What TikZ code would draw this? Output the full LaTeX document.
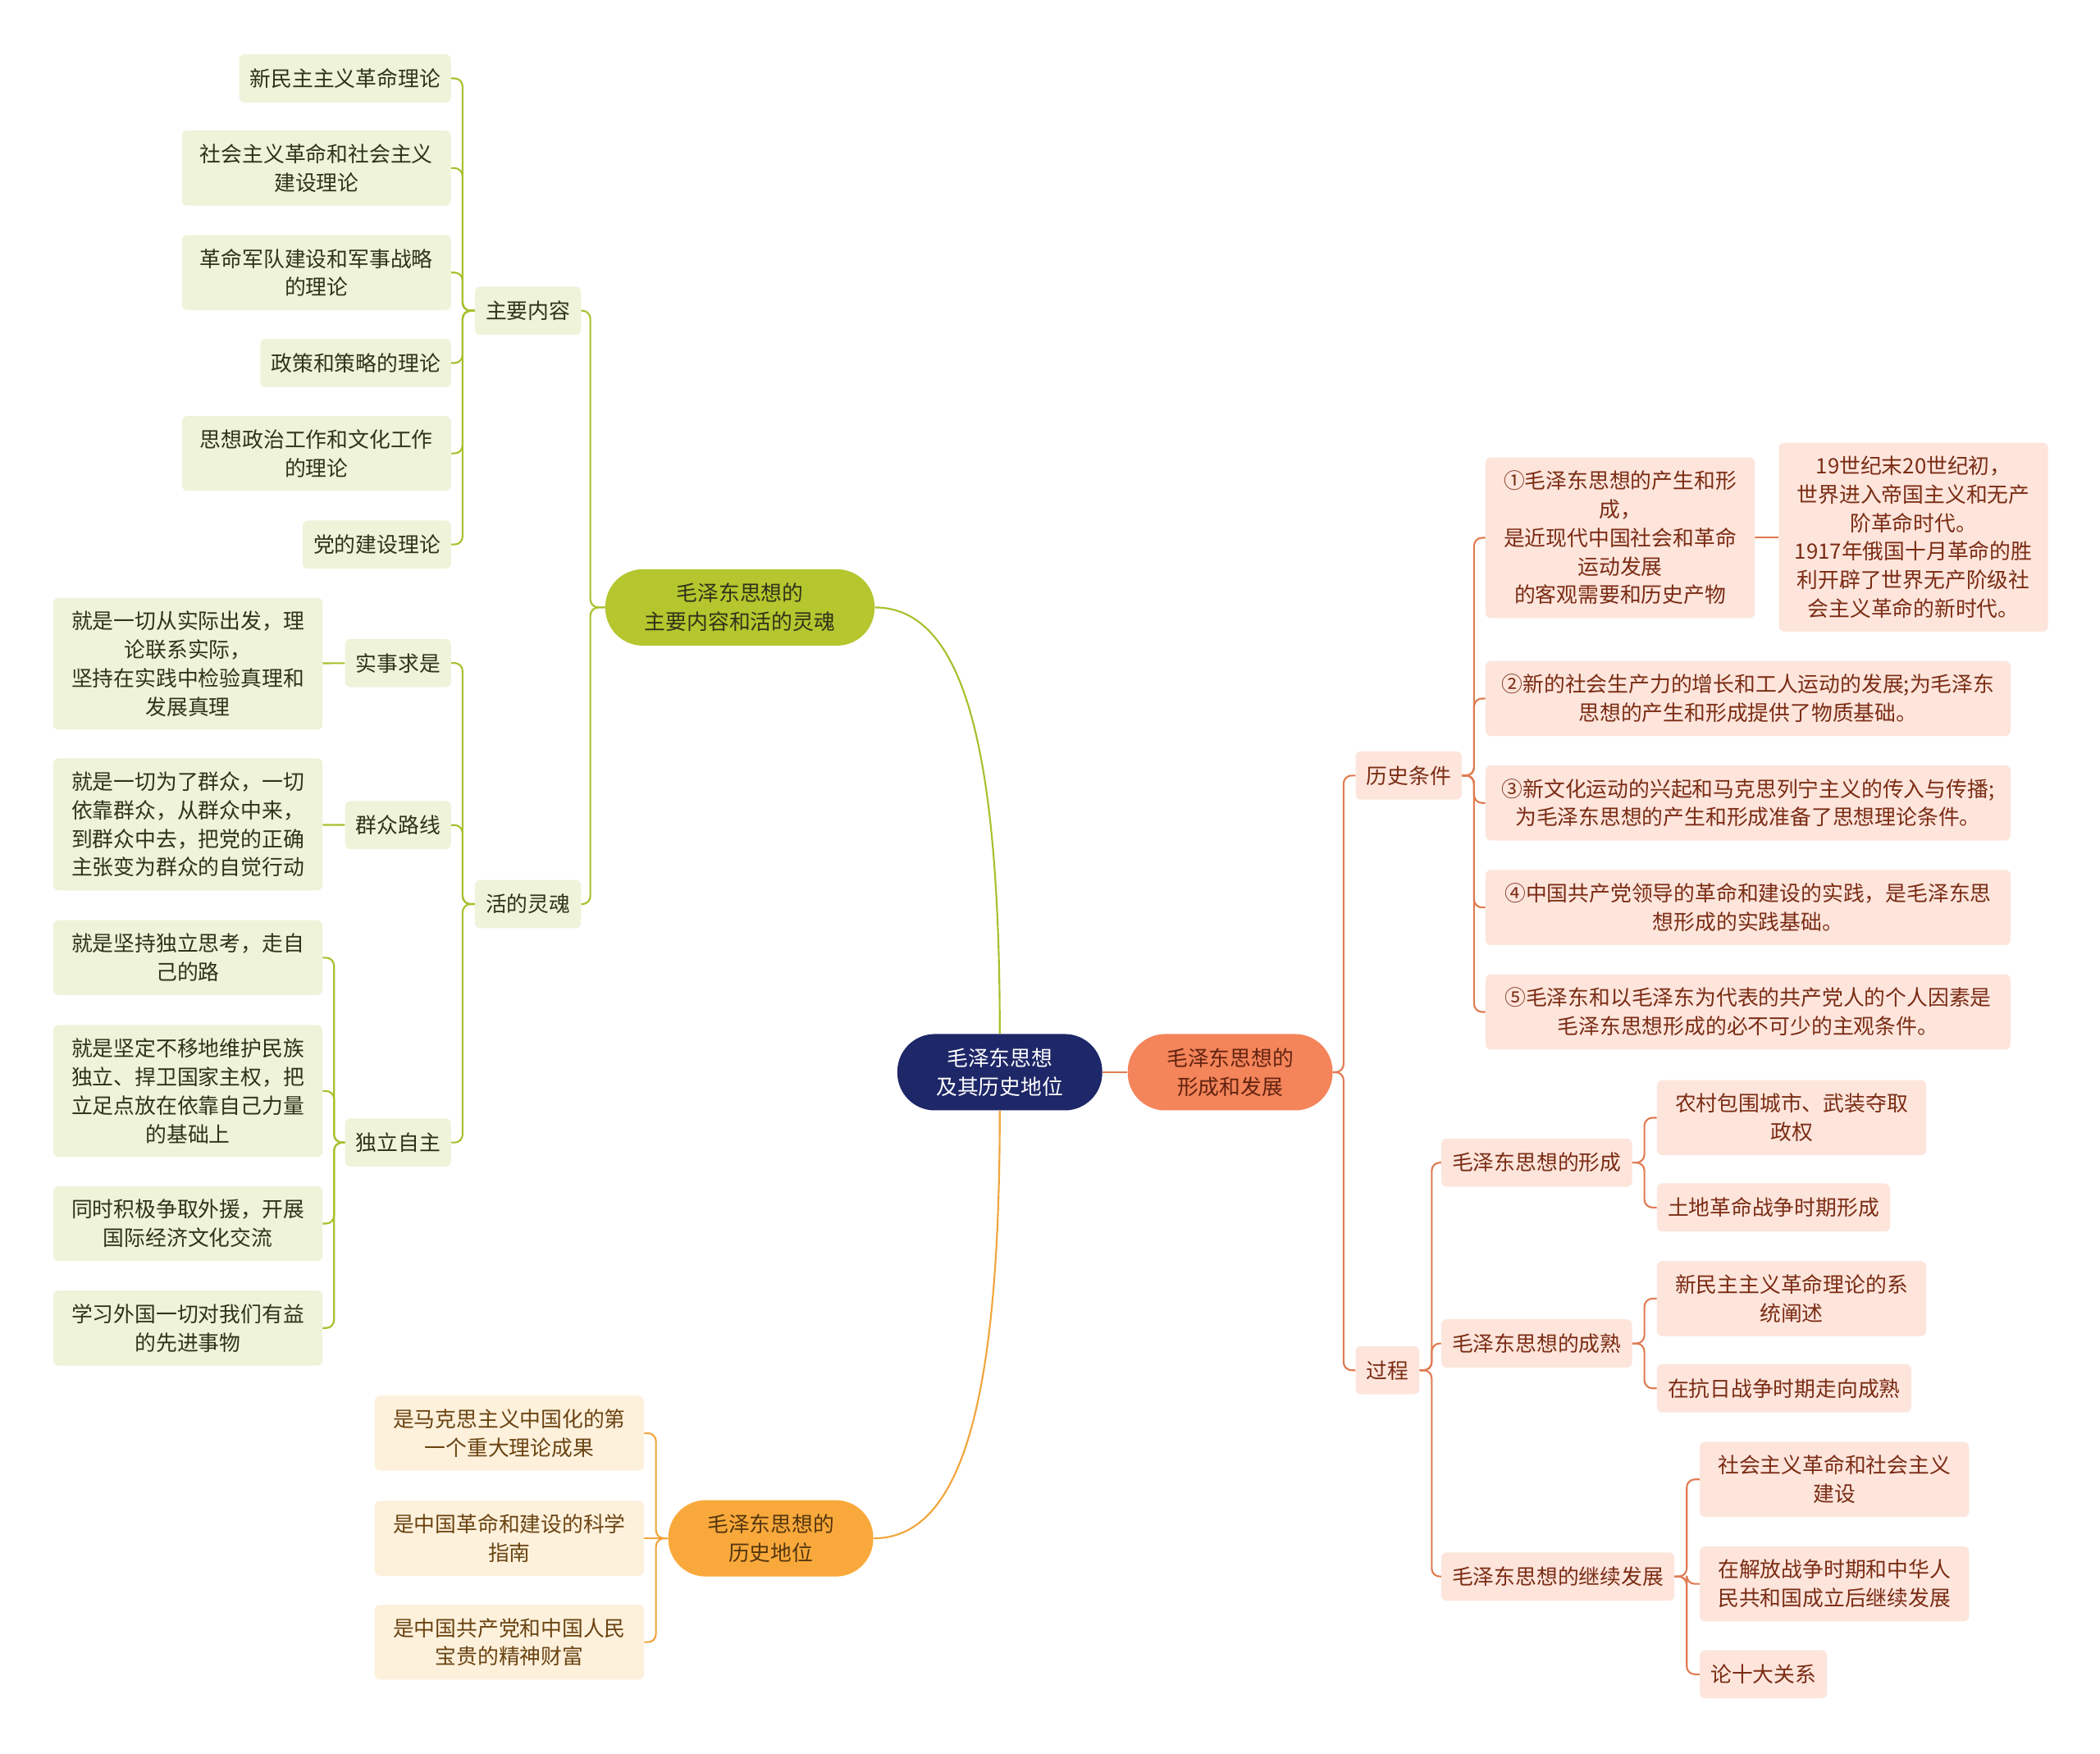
\documentclass[tikz,border=0pt]{standalone}
\usepackage{fontspec}
\setmainfont{Noto Sans CJK SC}
\definecolor{navy}{HTML}{1E2768}
\definecolor{coralhub}{HTML}{F4845A}
\definecolor{greenhub}{HTML}{B5C62E}
\definecolor{orangehub}{HTML}{F9A93B}
\definecolor{greenfill}{HTML}{EFF3DA}
\definecolor{coralfill}{HTML}{FDE5DC}
\definecolor{orangefill}{HTML}{FEF1DC}
\definecolor{greenln}{HTML}{A9BF2D}
\definecolor{coralln}{HTML}{E07B52}
\definecolor{orangeln}{HTML}{F1A53C}
\definecolor{greentext}{HTML}{30331A}
\definecolor{coraltext}{HTML}{7B2C14}
\definecolor{orangetext}{HTML}{6A4412}
\tikzset{
  every node/.style={font=\fontsize{15.8}{21.3}\selectfont, align=center},
  hub/.style={rounded corners=28pt, minimum width=153pt, minimum height=57pt, inner sep=4pt},
  leaf/.style={rounded corners=4pt, inner xsep=8pt, inner ysep=10pt, minimum height=36pt},
  longbox/.style={minimum width=201pt},
  widebox/.style={minimum width=392pt},
  gleaf/.style={leaf, fill=greenfill, text=greentext},
  cleaf/.style={leaf, fill=coralfill, text=coraltext},
  oleaf/.style={leaf, fill=orangefill, text=orangetext},
  gedge/.style={draw=greenln, line width=1.3pt, rounded corners=6pt},
  cedge/.style={draw=coralln, line width=1.3pt, rounded corners=6pt},
  oedge/.style={draw=orangeln, line width=1.3pt, rounded corners=6pt}
}

\begin{document}
\begin{tikzpicture}[x=1pt, y=-1pt]
            \fill[white] (0,0) rectangle (1568,1309);
            \useasboundingbox (0,0) rectangle (1568,1309);

            % centre and its four branches
            \node[hub, fill=navy, text=white] (root) at (746.5, 800.5) {毛泽东思想\\及其历史地位};
            \node[hub, fill=coralhub, text=coraltext!80!black] (form) at (918.5, 800.5) {毛泽东思想的\\形成和发展};
            \node[hub, fill=greenhub, text=greentext, minimum width=201pt] (cont) at (552.5, 453.5) {毛泽东思想的\\主要内容和活的灵魂};
            \node[hub, fill=orangehub, text=orangetext!80!black] (pos) at (575.5, 1148.5) {毛泽东思想的\\历史地位};

            % main content
            \node[gleaf, anchor=east] (zynr) at (434, 232) {主要内容};
            \node[gleaf, anchor=east] (xmz) at (337, 58.5) {新民主主义革命理论};
            \node[gleaf, longbox, anchor=east] (shz) at (337, 125.5) {社会主义革命和社会主义\\建设理论};
            \node[gleaf, longbox, anchor=east] (gmj) at (337, 203.5) {革命军队建设和军事战略\\的理论};
            \node[gleaf, anchor=east] (zcc) at (337, 271) {政策和策略的理论};
            \node[gleaf, longbox, anchor=east] (sxz) at (337, 338.5) {思想政治工作和文化工作\\的理论};
            \node[gleaf, anchor=east] (ddj) at (337, 406.5) {党的建设理论};

            % living soul
            \node[gleaf, anchor=east] (hdlh) at (434, 675) {活的灵魂};
            \node[gleaf, anchor=east] (sssq) at (337, 495) {实事求是};
            \node[gleaf, anchor=east] (qzlx) at (337, 616) {群众路线};
            \node[gleaf, anchor=east] (dlzz) at (337, 853) {独立自主};
            \node[gleaf, longbox, anchor=east] (sssqa) at (241, 495.5) {就是一切从实际出发，理\\论联系实际，\\坚持在实践中检验真理和\\发展真理};
            \node[gleaf, longbox, anchor=east] (qzlxa) at (241, 615.5) {就是一切为了群众，一切\\依靠群众，从群众中来，\\到群众中去，把党的正确\\主张变为群众的自觉行动};
            \node[gleaf, longbox, anchor=east] (dlzza) at (241, 715) {就是坚持独立思考，走自\\己的路};
            \node[gleaf, longbox, anchor=east] (dlzzb) at (241, 814.5) {就是坚定不移地维护民族\\独立、捍卫国家主权，把\\立足点放在依靠自己力量\\的基础上};
            \node[gleaf, longbox, anchor=east] (dlzzc) at (241, 913.5) {同时积极争取外援，开展\\国际经济文化交流};
            \node[gleaf, longbox, anchor=east] (dlzzd) at (241, 991.5) {学习外国一切对我们有益\\的先进事物};

            % historical position
            \node[oleaf, longbox, anchor=east] (posa) at (481, 1070) {是马克思主义中国化的第\\一个重大理论成果};
            \node[oleaf, longbox, anchor=east] (posb) at (481, 1148.5) {是中国革命和建设的科学\\指南};
            \node[oleaf, longbox, anchor=east] (posc) at (481, 1226) {是中国共产党和中国人民\\宝贵的精神财富};

            % historical conditions
            \node[cleaf, anchor=west] (lstj) at (1012, 579) {历史条件};
            \node[cleaf, longbox, anchor=west] (tja) at (1109, 401.5) {①毛泽东思想的产生和形\\成，\\是近现代中国社会和革命\\运动发展\\的客观需要和历史产物};
            \node[cleaf, longbox, anchor=west] (tjax) at (1328, 401) {19世纪末20世纪初，\\世界进入帝国主义和无产\\阶革命时代。\\1917年俄国十月革命的胜\\利开辟了世界无产阶级社\\会主义革命的新时代。};
            \node[cleaf, widebox, anchor=west] (tjb) at (1109, 521.5) {②新的社会生产力的增长和工人运动的发展;为毛泽东\\思想的产生和形成提供了物质基础。};
            \node[cleaf, widebox, anchor=west] (tjc) at (1109, 599.5) {③新文化运动的兴起和马克思列宁主义的传入与传播;\\为毛泽东思想的产生和形成准备了思想理论条件。};
            \node[cleaf, widebox, anchor=west] (tjd) at (1109, 677.5) {④中国共产党领导的革命和建设的实践，是毛泽东思\\想形成的实践基础。};
            \node[cleaf, widebox, anchor=west] (tje) at (1109, 755.5) {⑤毛泽东和以毛泽东为代表的共产党人的个人因素是\\毛泽东思想形成的必不可少的主观条件。};

            % process
            \node[cleaf, anchor=west] (gc) at (1012, 1023) {过程};
            \node[cleaf, anchor=west] (gca) at (1076, 868) {毛泽东思想的形成};
            \node[cleaf, anchor=west] (gcb) at (1076, 1003) {毛泽东思想的成熟};
            \node[cleaf, anchor=west] (gcc) at (1076, 1177) {毛泽东思想的继续发展};
            \node[cleaf, longbox, anchor=west] (gcaa) at (1237, 834.5) {农村包围城市、武装夺取\\政权};
            \node[cleaf, anchor=west] (gcab) at (1237, 901.5) {土地革命战争时期形成};
            \node[cleaf, longbox, anchor=west] (gcba) at (1237, 969.5) {新民主主义革命理论的系\\统阐述};
            \node[cleaf, anchor=west] (gcbb) at (1237, 1036.5) {在抗日战争时期走向成熟};
            \node[cleaf, longbox, anchor=west] (gcca) at (1269, 1104.5) {社会主义革命和社会主义\\建设};
            \node[cleaf, longbox, anchor=west] (gccb) at (1269, 1182.5) {在解放战争时期和中华人\\民共和国成立后继续发展};
            \node[cleaf, anchor=west] (gccc) at (1269, 1250) {论十大关系};

            \draw[cedge] (root) -- (form);
            \draw[gedge] (root.north) .. controls (746.5, 560) and (720, 453.5) .. (cont.east);
            \draw[oedge] (root.south) .. controls (746.5, 1040) and (720, 1148.5) .. (pos.east);

            \draw[gedge] (cont.west) -- ++(-11,0) |- (zynr.east);
            \draw[gedge] (cont.west) -- ++(-11,0) |- (hdlh.east);
            \draw[gedge] (zynr.west) -- ++(-9,0) |- (xmz.east);
            \draw[gedge] (zynr.west) -- ++(-9,0) |- (shz.east);
            \draw[gedge] (zynr.west) -- ++(-9,0) |- (gmj.east);
            \draw[gedge] (zynr.west) -- ++(-9,0) |- (zcc.east);
            \draw[gedge] (zynr.west) -- ++(-9,0) |- (sxz.east);
            \draw[gedge] (zynr.west) -- ++(-9,0) |- (ddj.east);
            \draw[gedge] (hdlh.west) -- ++(-9,0) |- (sssq.east);
            \draw[gedge] (hdlh.west) -- ++(-9,0) |- (qzlx.east);
            \draw[gedge] (hdlh.west) -- ++(-9,0) |- (dlzz.east);
            \draw[gedge] (sssq) -- (sssqa);
            \draw[gedge] (qzlx) -- (qzlxa);
            \draw[gedge] (dlzz.west) -- ++(-8,0) |- (dlzza.east);
            \draw[gedge] (dlzz.west) -- ++(-8,0) |- (dlzzb.east);
            \draw[gedge] (dlzz.west) -- ++(-8,0) |- (dlzzc.east);
            \draw[gedge] (dlzz.west) -- ++(-8,0) |- (dlzzd.east);

            \draw[oedge] (pos.west) -- ++(-9,0) |- (posa.east);
            \draw[oedge] (pos.west) -- (posb.east);
            \draw[oedge] (pos.west) -- ++(-9,0) |- (posc.east);

            \draw[cedge] (form.east) -- ++(8,0) |- (lstj.west);
            \draw[cedge] (form.east) -- ++(8,0) |- (gc.west);
            \draw[cedge] (lstj.east) -- ++(9,0) |- (tja.west);
            \draw[cedge] (lstj.east) -- ++(9,0) |- (tjb.west);
            \draw[cedge] (lstj.east) -- ++(9,0) |- (tjc.west);
            \draw[cedge] (lstj.east) -- ++(9,0) |- (tjd.west);
            \draw[cedge] (lstj.east) -- ++(9,0) |- (tje.west);
            \draw[cedge] (tja) -- (tjax);
            \draw[cedge] (gc.east) -- ++(9,0) |- (gca.west);
            \draw[cedge] (gc.east) -- ++(9,0) |- (gcb.west);
            \draw[cedge] (gc.east) -- ++(9,0) |- (gcc.west);
            \draw[cedge] (gca.east) -- ++(9,0) |- (gcaa.west);
            \draw[cedge] (gca.east) -- ++(9,0) |- (gcab.west);
            \draw[cedge] (gcb.east) -- ++(9,0) |- (gcba.west);
            \draw[cedge] (gcb.east) -- ++(9,0) |- (gcbb.west);
            \draw[cedge] (gcc.east) -- ++(9,0) |- (gcca.west);
            \draw[cedge] (gcc.east) -- ++(9,0) |- (gccb.west);
            \draw[cedge] (gcc.east) -- ++(9,0) |- (gccc.west);
\end{tikzpicture}
\end{document}
